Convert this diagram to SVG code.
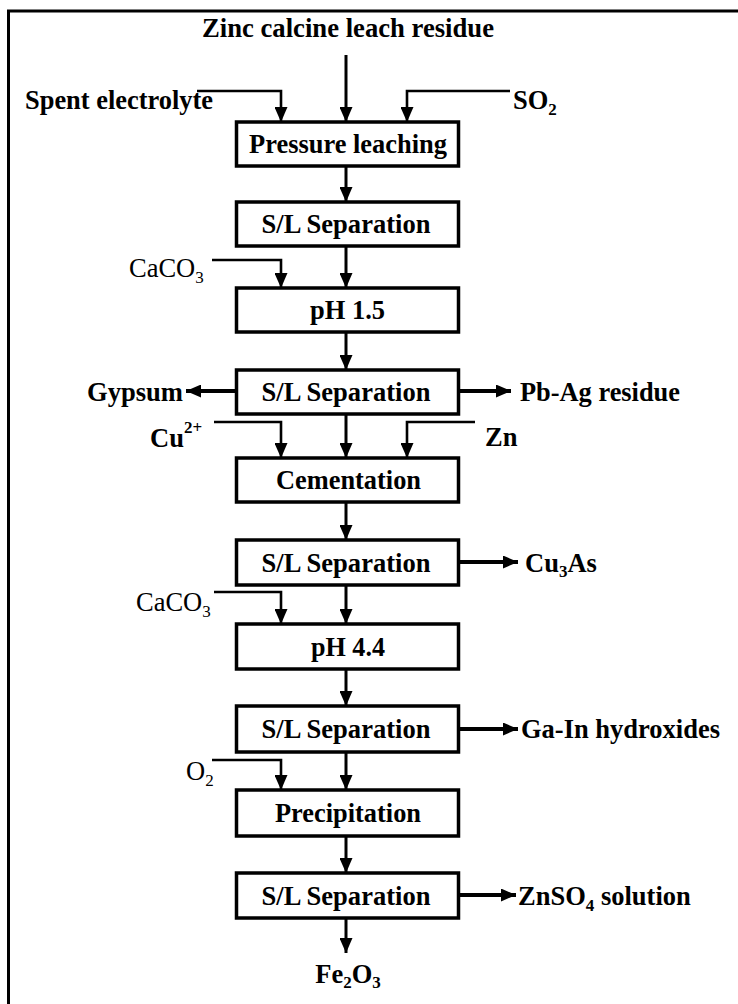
<svg xmlns="http://www.w3.org/2000/svg" width="738" height="1004" viewBox="0 0 738 1004">
<style>
text { font-family: "Liberation Serif", "Times New Roman", serif; font-size: 28px; fill: #000; }
.b { font-weight: bold; }
.c { text-anchor: middle; }
.box rect { fill: #fff; stroke: #000; stroke-width: 3.5; }
.main { stroke: #000; stroke-width: 3; fill: none; }
.feed { stroke: #000; stroke-width: 2.6; fill: none; }
.out { stroke: #000; stroke-width: 4; fill: none; }
.sub { font-size: 17px; }
.n { font-size: 26.5px; }
</style>
<defs>
<marker id="ah" markerUnits="userSpaceOnUse" markerWidth="15" markerHeight="13" refX="15" refY="6.5" orient="auto" viewBox="0 0 15 13">
<path d="M0,0 L15,6.5 L0,13 z" fill="#000"/>
</marker>
</defs>
<path d="M8.5,1004 V11 H738" fill="none" stroke="#000" stroke-width="3"/>

<g id="connectors">
<line class="main" x1="346" y1="55" x2="346" y2="122" marker-end="url(#ah)"/>
<line class="main" x1="346" y1="166" x2="346" y2="202" marker-end="url(#ah)"/>
<line class="main" x1="346" y1="246" x2="346" y2="288" marker-end="url(#ah)"/>
<line class="main" x1="346" y1="332" x2="346" y2="370" marker-end="url(#ah)"/>
<line class="main" x1="346" y1="414" x2="346" y2="458" marker-end="url(#ah)"/>
<line class="main" x1="346" y1="502" x2="346" y2="540" marker-end="url(#ah)"/>
<line class="main" x1="346" y1="585" x2="346" y2="624" marker-end="url(#ah)"/>
<line class="main" x1="346" y1="669" x2="346" y2="706" marker-end="url(#ah)"/>
<line class="main" x1="346" y1="752" x2="346" y2="790" marker-end="url(#ah)"/>
<line class="main" x1="346" y1="836" x2="346" y2="873" marker-end="url(#ah)"/>
<line class="main" x1="346" y1="918" x2="346" y2="953" marker-end="url(#ah)"/>

<path class="feed" d="M197,91 H281 V122" marker-end="url(#ah)"/>
<path class="feed" d="M510,91 H407 V122" marker-end="url(#ah)"/>
<path class="feed" d="M212,260 H281 V288" marker-end="url(#ah)"/>
<path class="feed" d="M214,422 H281 V458" marker-end="url(#ah)"/>
<path class="feed" d="M475,422 H407 V458" marker-end="url(#ah)"/>
<path class="feed" d="M214,592 H281 V624" marker-end="url(#ah)"/>
<path class="feed" d="M212,760 H281 V790" marker-end="url(#ah)"/>

<line class="out" x1="236" y1="391" x2="186" y2="391" marker-end="url(#ah)"/>
<line class="out" x1="459" y1="391" x2="511" y2="391" marker-end="url(#ah)"/>
<line class="out" x1="459" y1="562" x2="518" y2="562" marker-end="url(#ah)"/>
<line class="out" x1="459" y1="729" x2="518" y2="729" marker-end="url(#ah)"/>
<line class="out" x1="459" y1="895" x2="516" y2="895" marker-end="url(#ah)"/>
</g>

<g id="n-pressure" class="box"><rect x="236.5" y="122" width="222" height="44"/><text class="b c" x="348" y="153" textLength="198" lengthAdjust="spacingAndGlyphs">Pressure leaching</text></g>
<g id="n-sl1" class="box"><rect x="236.5" y="202" width="222" height="44"/><text class="b c" x="346" y="233" textLength="169" lengthAdjust="spacingAndGlyphs">S/L Separation</text></g>
<g id="n-ph15" class="box"><rect x="236.5" y="288" width="222" height="44"/><text class="b c" x="347.5" y="319" textLength="75" lengthAdjust="spacingAndGlyphs">pH 1.5</text></g>
<g id="n-sl2" class="box"><rect x="236.5" y="370" width="222" height="44"/><text class="b c" x="346" y="401" textLength="169" lengthAdjust="spacingAndGlyphs">S/L Separation</text></g>
<g id="n-cem" class="box"><rect x="236.5" y="458" width="222" height="44"/><text class="b c" x="348.5" y="489" textLength="145" lengthAdjust="spacingAndGlyphs">Cementation</text></g>
<g id="n-sl3" class="box"><rect x="236.5" y="540" width="222" height="45"/><text class="b c" x="346" y="571.5" textLength="169" lengthAdjust="spacingAndGlyphs">S/L Separation</text></g>
<g id="n-ph44" class="box"><rect x="236.5" y="624" width="222" height="45"/><text class="b c" x="348" y="655.5" textLength="74" lengthAdjust="spacingAndGlyphs">pH 4.4</text></g>
<g id="n-sl4" class="box"><rect x="236.5" y="706" width="222" height="46"/><text class="b c" x="346" y="738" textLength="169" lengthAdjust="spacingAndGlyphs">S/L Separation</text></g>
<g id="n-precip" class="box"><rect x="236.5" y="790" width="222" height="46"/><text class="b c" x="348" y="822" textLength="146" lengthAdjust="spacingAndGlyphs">Precipitation</text></g>
<g id="n-sl5" class="box"><rect x="236.5" y="873" width="222" height="45"/><text class="b c" x="346" y="904.5" textLength="169" lengthAdjust="spacingAndGlyphs">S/L Separation</text></g>

<g id="n-zinc"><text class="b c" x="348" y="37" textLength="292" lengthAdjust="spacingAndGlyphs">Zinc calcine leach residue</text></g>
<g id="n-spent"><text class="b" x="25" y="109" textLength="188" lengthAdjust="spacingAndGlyphs">Spent electrolyte</text></g>
<g id="n-so2"><text class="b n" x="513" y="109">SO<tspan class="sub" dy="6">2</tspan></text></g>
<g id="n-caco3a"><text class="n" x="129" y="277">CaCO<tspan class="sub" dy="6">3</tspan></text></g>
<g id="n-gypsum"><text class="b" x="87" y="401" textLength="96" lengthAdjust="spacingAndGlyphs">Gypsum</text></g>
<g id="n-pbag"><text class="b" x="520" y="401" textLength="160" lengthAdjust="spacingAndGlyphs">Pb-Ag residue</text></g>
<g id="n-cu"><text class="b n" x="150" y="447">Cu<tspan class="sub" dy="-14">2+</tspan></text></g>
<g id="n-zn"><text class="b n" x="485" y="446">Zn</text></g>
<g id="n-cu3as"><text class="b n" x="525" y="571.5">Cu<tspan class="sub" dy="5">3</tspan><tspan dy="-5">As</tspan></text></g>
<g id="n-caco3b"><text class="n" x="136" y="611">CaCO<tspan class="sub" dy="6">3</tspan></text></g>
<g id="n-gain"><text class="b" x="521" y="738" textLength="199" lengthAdjust="spacingAndGlyphs">Ga-In hydroxides</text></g>
<g id="n-o2"><text class="n" x="186" y="780">O<tspan class="sub" dy="6">2</tspan></text></g>
<g id="n-znso4"><text class="b n" x="518" y="904.5">ZnSO<tspan class="sub" dy="6">4</tspan><tspan dy="-6"> solution</tspan></text></g>
<g id="n-fe2o3"><text class="b c n" x="348" y="983">Fe<tspan class="sub" dy="5">2</tspan><tspan dy="-5">O</tspan><tspan class="sub" dy="5">3</tspan></text></g>
</svg>
